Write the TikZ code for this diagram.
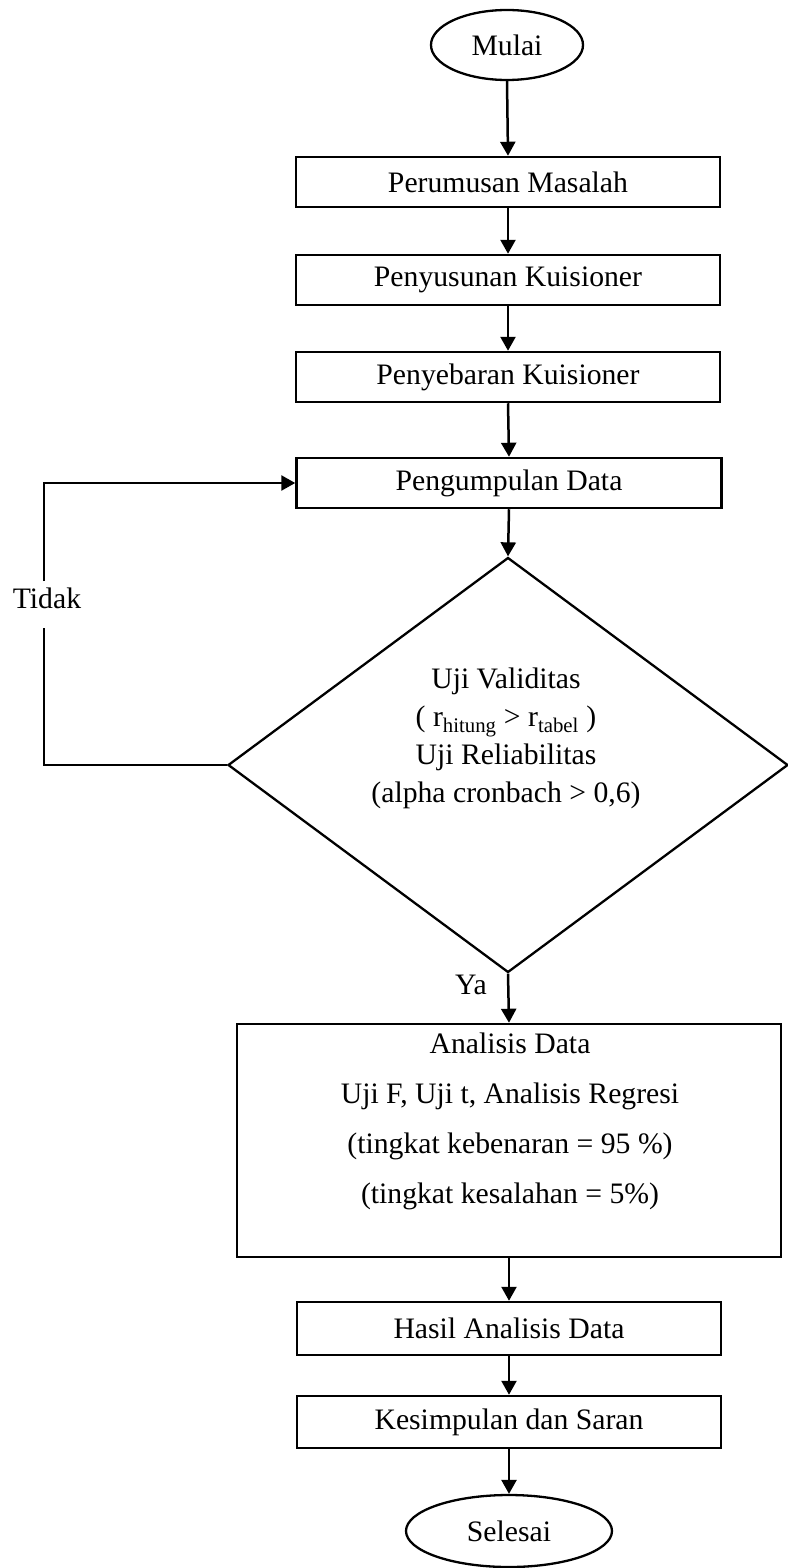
\documentclass[tikz,border=0pt]{standalone}
\usepackage{fontspec}
\setmainfont{Liberation Serif}
\usetikzlibrary{shapes.geometric,arrows.meta}
\begin{document}
\begin{tikzpicture}[x=1pt,y=-1pt,
  txt/.style={font=\fontsize{29.7}{36}\selectfont},
  box/.style={draw, line width=2.5pt, minimum width=424pt, minimum height=50pt, inner sep=0pt, txt},
  term/.style={draw, ellipse, line width=2.3pt, inner sep=0pt, txt},
  arr/.style={line width=2.5pt, -{Triangle[length=14pt,width=15pt]}},
  ln/.style={line width=2.5pt},
  lbl/.style={inner sep=0pt, txt}]
\useasboundingbox (0,0) rectangle (787,1568);

\node[term, minimum width=152pt, minimum height=70pt] (mulai) at (507,45) {Mulai};
\node[box] (p1) at (508,182) {Perumusan Masalah};
\node[box] (p2) at (508,280) {Penyusunan Kuisioner};
\node[box] (p3) at (508,377) {Penyebaran Kuisioner};
\node[box, minimum width=425pt] (p4) at (509,483) {Pengumpulan Data};
\node[diamond, draw, line width=2.3pt, minimum width=560pt, minimum height=415pt, inner sep=0pt] (uji) at (508,765) {};
\node[lbl, align=center, font=\fontsize{29.7}{38}\selectfont] (ujitext) at (506,738)
  {Uji Validitas\\( r\textsubscript{hitung} > r\textsubscript{tabel} )\\Uji Reliabilitas\\(alpha cronbach > 0,6)};
\node[draw, line width=2.5pt, minimum width=544pt, minimum height=233pt, inner sep=0pt] (ana) at (509,1140.5) {};
\node[lbl, align=center, font=\fontsize{29.7}{50}\selectfont] (anatext) at (510,1121)
  {Analisis Data\\Uji F, Uji t, Analisis Regresi\\(tingkat kebenaran = 95 \%)\\(tingkat kesalahan = 5\%)};
\node[box, minimum height=53pt] (hasil) at (509,1328.5) {Hasil Analisis Data};
\node[box, minimum height=52pt] (kes) at (509,1422) {Kesimpulan dan Saran};
\node[term, minimum width=206pt, minimum height=72pt] (selesai) at (509,1531) {Selesai};

\node[lbl] (tidak) at (47,598) {Tidak};
\node[lbl] (ya) at (471,985) {Ya};

\coordinate (lb) at (44,765);
\coordinate (gapbot) at (44,628);
\coordinate (gaptop) at (44,581);
\coordinate (lt) at (44,483);

\draw[arr] (mulai.south) -- (p1.north);
\draw[arr] (p1.south) -- (p2.north);
\draw[arr] (p2.south) -- (p3.north);
\draw[arr] (p3.south) -- (p4.north);
\draw[arr] (p4.south) -- (uji.north);
\draw[arr] (uji.south) -- (ana.north);
\draw[arr] (ana.south) -- (hasil.north);
\draw[arr] (hasil.south) -- (kes.north);
\draw[arr] (kes.south) -- (selesai.north);

\draw[ln] (uji.west) -- (lb) -- (gapbot);
\draw[arr] (gaptop) -- (lt) -- (p4.west);
\end{tikzpicture}
\end{document}
